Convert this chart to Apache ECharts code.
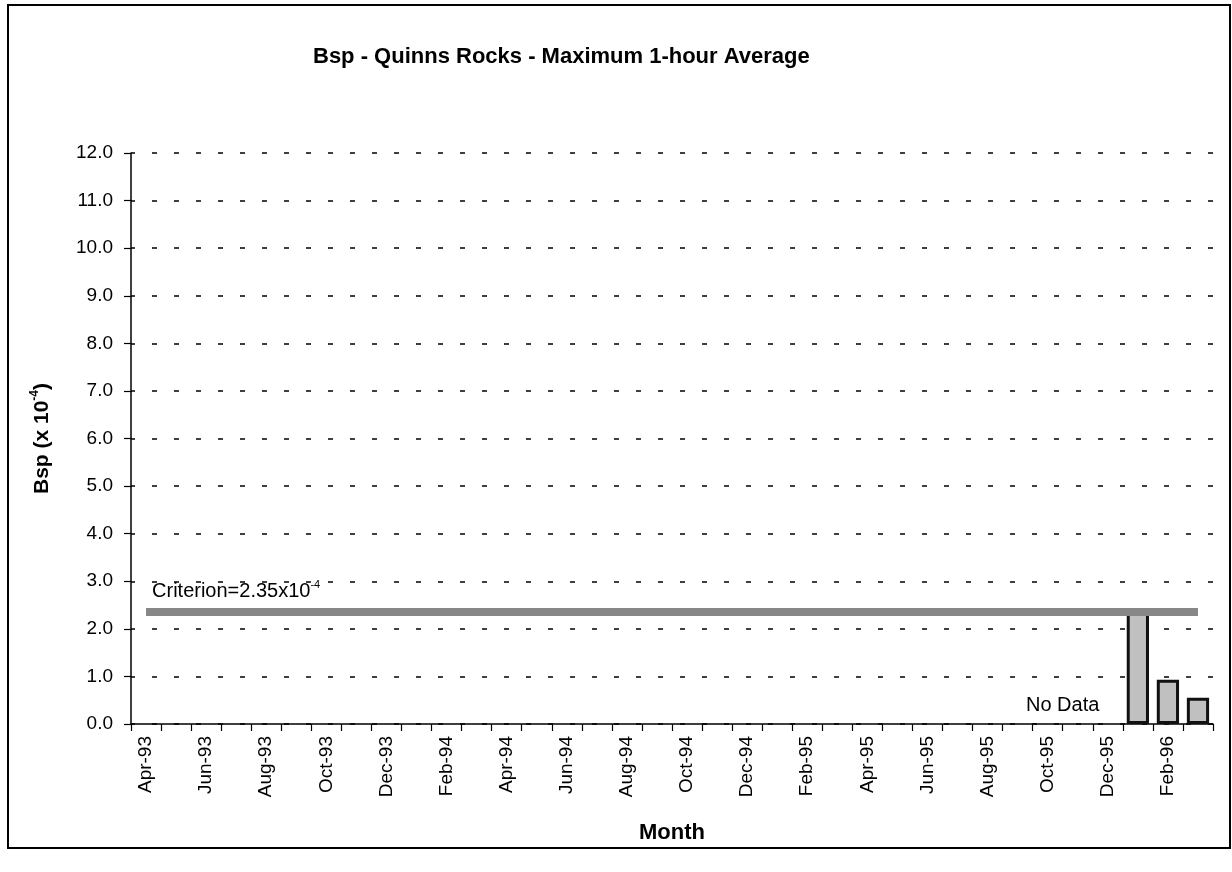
<!DOCTYPE html>
<html>
<head>
<meta charset="utf-8">
<title>Bsp - Quinns Rocks</title>
<script src="https://cdn.jsdelivr.net/npm/echarts@6/dist/echarts.min.js"></script>
<style>
  html, body { margin: 0; padding: 0; background: #fff; }
  #chart { width: 1232px; height: 872px; }
</style>
</head>
<body>
<div id="chart"></div>
<script>
// months on the category axis (Apr-93 .. Mar-96)
const months = [
  "Apr-93", "May-93", "Jun-93", "Jul-93", "Aug-93", "Sep-93", "Oct-93", "Nov-93", "Dec-93",
  "Jan-94", "Feb-94", "Mar-94", "Apr-94", "May-94", "Jun-94", "Jul-94", "Aug-94", "Sep-94",
  "Oct-94", "Nov-94", "Dec-94", "Jan-95", "Feb-95", "Mar-95", "Apr-95", "May-95", "Jun-95",
  "Jul-95", "Aug-95", "Sep-95", "Oct-95", "Nov-95", "Dec-95", "Jan-96", "Feb-96", "Mar-96"
];
// maximum 1-hour average Bsp (x10^-4); null = no data
const bspMax = [
  null, null, null, null, null, null, null, null, null,
  null, null, null, null, null, null, null, null, null,
  null, null, null, null, null, null, null, null, null,
  null, null, null, null, null, null, 2.38, 0.93, 0.55
];
const criterion = 2.35;

const font = "Liberation Sans, Arial, sans-serif";

let myChart = echarts.init(document.getElementById("chart"));
myChart.setOption({
  backgroundColor: "#fff",
  animation: false,
  title: {
    text: "Bsp - Quinns Rocks - Maximum 1-hour Average",
    left: 313,
    top: 46,
    padding: 0,
    textStyle: { fontFamily: font, fontSize: 22, fontWeight: "bold", color: "#000" },
  },
  grid: { left: 131, right: 19, top: 153, bottom: 148 },
  xAxis: {
    type: "category",
    data: months,
    name: "Month",
    nameLocation: "middle",
    nameGap: 98,
    nameTextStyle: { fontFamily: font, fontSize: 22, fontWeight: "bold", color: "#000" },
    axisLine: { show: true, lineStyle: { color: "#000", width: 1.5 } },
    axisTick: { show: true, interval: 0, length: 7, lineStyle: { color: "#000", width: 1.2 } },
    axisLabel: {
      interval: 1,
      rotate: 90,
      margin: 12,
      fontFamily: font,
      fontSize: 19,
      color: "#000",
    },
    splitLine: { show: false },
  },
  yAxis: {
    type: "value",
    min: 0,
    max: 12,
    interval: 1,
    name: "{b|Bsp (x 10}{s|-4}{b|)}",
    nameLocation: "middle",
    nameGap: 76,
    nameRotate: 90,
    nameTextStyle: {
      rich: {
        b: { fontFamily: font, fontSize: 21, fontWeight: "bold", color: "#000", lineHeight: 26 },
        s: { fontFamily: font, fontSize: 12, fontWeight: "bold", color: "#000", lineHeight: 26, verticalAlign: "top" },
      },
    },
    axisLine: { show: true, lineStyle: { color: "#000", width: 1.5 } },
    axisTick: { show: true, length: 7, lineStyle: { color: "#000", width: 1.2 } },
    axisLabel: {
      formatter: (v) => v.toFixed(1),
      margin: 18,
      fontFamily: font,
      fontSize: 19,
      color: "#000",
    },
    splitLine: {
      show: true,
      lineStyle: { color: "#000", width: 1.5, type: [5, 17], dashOffset: 1 },
    },
  },
  series: [
    {
      name: "Criterion",
      type: "line",
      data: [],
      z: 1,
      silent: true,
      markLine: {
        silent: true,
        symbol: "none",
        lineStyle: { color: "#878787", width: 8, type: "solid" },
        label: {
          show: true,
          position: "insideStartTop",
          distance: [6, 9],
          formatter: "{t|Criterion=2.35x10}{s|-4}",
          rich: {
            t: { fontFamily: font, fontSize: 20, color: "#000", lineHeight: 24 },
            s: { fontFamily: font, fontSize: 11, color: "#000", lineHeight: 24, verticalAlign: "top" },
          },
        },
        data: [
          [
            { coord: [months[0], criterion] },
            { coord: [months[months.length - 1], criterion] },
          ],
        ],
      },
    },
    {
      name: "Bsp",
      type: "bar",
      data: bspMax,
      z: 3,
      barWidth: "74%",
      itemStyle: { color: "#c0c0c0", borderColor: "#111", borderWidth: 3 },
    },
  ],
  graphic: [
    {
      type: "rect",
      shape: { x: 8, y: 5, width: 1222, height: 843 },
      style: { fill: "none", stroke: "#000", lineWidth: 2 },
      silent: true,
    },
    {
      type: "text",
      left: 1026,
      top: 695,
      style: { text: "No Data", fontFamily: font, fontSize: 20, fill: "#000" },
      silent: true,
    },
  ],
});
</script>
</body>
</html>
